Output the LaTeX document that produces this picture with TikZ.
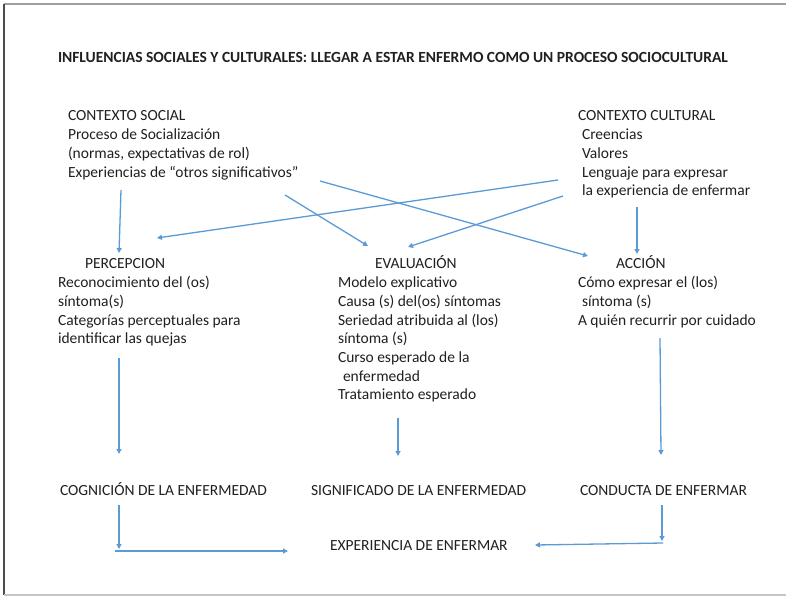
\documentclass[tikz,border=0pt]{standalone}
\usepackage{fontspec}
\setmainfont{Carlito}
\usetikzlibrary{arrows.meta}
\definecolor{arrowblue}{HTML}{5B9BD5}
\definecolor{txt}{HTML}{202020}
\begin{document}
\begin{tikzpicture}[x=1pt,y=-1pt,
  txtstyle/.style={inner sep=0pt, outer sep=0pt, text=txt, font=\fontsize{15.5}{18.7}\selectfont},
  blk/.style={txtstyle, align=left, anchor=north west},
  lbl/.style={txtstyle, anchor=base west},
  conn/.style={draw=arrowblue, line width=1.3pt, -{Triangle[length=5pt,width=5pt]}},
  frametop/.style={draw=gray!75, line width=2pt},
  frameleft/.style={draw=gray!60!black, line width=1.2pt},
  framebottom/.style={draw=gray!45, line width=1.5pt}]
\useasboundingbox (0,0) rectangle (786,596);
\fill[white] (0,0) rectangle (786,596);
% frame
\draw[frametop] (4,4) -- (786,4);
\draw[frameleft] (4,4) -- (4,595);
\draw[framebottom] (4,595) -- (786,595);
% title
\node[lbl, font=\bfseries\fontsize{15.5}{18}\selectfont] (title) at (58,63)
  {INFLUENCIAS SOCIALES Y CULTURALES: LLEGAR A ESTAR ENFERMO COMO UN PROCESO SOCIOCULTURAL};
% context blocks
\node[blk] (csoc) at (68,107.9) {\strut CONTEXTO SOCIAL\\Proceso de Socialización\\(normas, expectativas de rol)\\Experiencias de “otros significativos”};
\node[blk] (ccul) at (578,107.9) {\strut CONTEXTO CULTURAL\\\hspace*{4pt}Creencias\\\hspace*{4pt}Valores\\\hspace*{4pt}Lenguaje para expresar\\\hspace*{4pt}la experiencia de enfermar};
% middle blocks
\node[blk] (perc) at (58,255.9) {\strut\hspace*{27pt}PERCEPCION\\Reconocimiento del (os)\\síntoma(s)\\Categorías perceptuales para\\identificar las quejas};
\node[blk] (eval) at (338,255.9) {\strut\hspace*{37pt}EVALUACIÓN\\Modelo explicativo\\Causa (s) del(os) síntomas\\Seriedad atribuida al (los)\\síntoma (s)\\Curso esperado de la\\\hspace*{5pt}enfermedad\\Tratamiento esperado};
\node[blk] (acc) at (578,255.9) {\strut\hspace*{38pt}ACCIÓN\\Cómo expresar el (los)\\\hspace*{4pt}síntoma (s)\\A quién recurrir por cuidado};
% outcome labels
\node[lbl] (cog) at (60,495) {COGNICIÓN DE LA ENFERMEDAD};
\node[lbl] (sig) at (311,495) {SIGNIFICADO DE LA ENFERMEDAD};
\node[lbl] (cond) at (580,495) {CONDUCTA DE ENFERMAR};
\node[lbl] (exp) at (330,550) {EXPERIENCIA DE ENFERMAR};
% connector end points
\coordinate (csocA) at (121,190);
\coordinate (csocB) at (285,195);
\coordinate (csocC) at (320,181);
\coordinate (cculA) at (558,180);
\coordinate (cculB) at (563,196);
\coordinate (cculC) at (637,207);
\coordinate (percIn1) at (119,253);
\coordinate (percIn2) at (157,238);
\coordinate (evalIn1) at (368,246);
\coordinate (evalIn2) at (408,247);
\coordinate (accIn1) at (588,256);
\coordinate (accIn2) at (637,254);
\coordinate (percOut) at (119,358);
\coordinate (evalOut) at (398,418);
\coordinate (accOut) at (660,338);
\coordinate (cogIn) at (119,454);
\coordinate (sigIn) at (398,456);
\coordinate (condIn) at (661,455);
\coordinate (cogOut) at (119,505);
\coordinate (cogCorner) at (119,549);
\coordinate (cogTurn) at (115,551);
\coordinate (expInL) at (288,551);
\coordinate (condOut) at (662,505);
\coordinate (condCorner) at (662,541);
\coordinate (condTurn) at (663,543);
\coordinate (expInR) at (535,545);
% connectors
\draw[conn] (csocA) -- (percIn1);
\draw[conn] (csocB) -- (evalIn1);
\draw[conn] (csocC) -- (accIn1);
\draw[conn] (cculA) -- (percIn2);
\draw[conn] (cculB) -- (evalIn2);
\draw[conn] (cculC) -- (accIn2);
\draw[conn] (percOut) -- (cogIn);
\draw[conn] (evalOut) -- (sigIn);
\draw[conn] (accOut) -- (condIn);
\draw[conn] (cogOut) -- (cogCorner);
\draw[conn] (cogTurn) -- (expInL);
\draw[conn] (condOut) -- (condCorner);
\draw[conn] (condTurn) -- (expInR);
\end{tikzpicture}
\end{document}
